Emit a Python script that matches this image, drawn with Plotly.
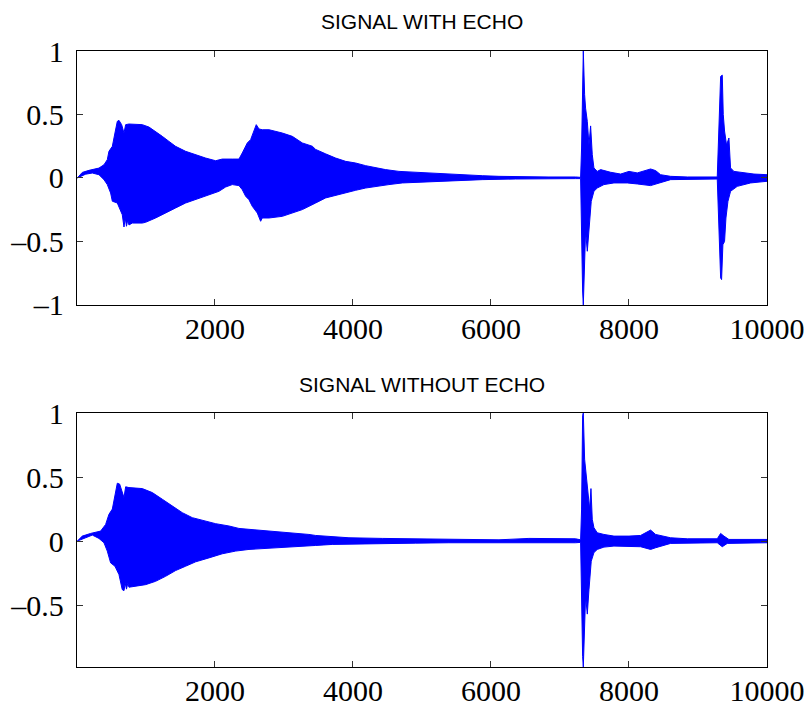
import plotly.graph_objects as go

# envelope of the signal with echo (sample index, amplitude)
echo_up_x = [5, 78, 174, 319, 392, 440, 464, 513, 551, 585, 609, 648, 682, 706, 754, 947, 1044, 1140,
             1237, 1334, 1430, 1575, 1720, 1865, 2010, 2106, 2251, 2348, 2396, 2469, 2517, 2565, 2599,
             2638, 2686, 2783, 2879, 2976, 3121, 3266, 3411, 3459, 3604, 3749, 3894, 4039, 4184, 4328,
             4473, 4667, 4908, 5150, 5391, 5633, 5874, 6116, 6357, 6840, 7226, 7299, 7313, 7328, 7338,
             7357, 7371, 7396, 7420, 7444, 7468, 7492, 7540, 7589, 7637, 7734, 7879, 8000, 8120, 8192,
             8313, 8386, 8458, 8603, 8845, 9279, 9303, 9328, 9352, 9366, 9385, 9414, 9448, 9472, 9521,
             9666, 9811, 10000]
echo_up_y = [0.0, 0.044, 0.060, 0.078, 0.104, 0.144, 0.210, 0.249, 0.354, 0.446, 0.454, 0.420, 0.354,
             0.420, 0.425, 0.420, 0.401, 0.367, 0.328, 0.288, 0.249, 0.210, 0.183, 0.157, 0.136, 0.149,
             0.149, 0.149, 0.197, 0.276, 0.302, 0.380, 0.420, 0.386, 0.380, 0.380, 0.367, 0.354, 0.328,
             0.276, 0.250, 0.225, 0.190, 0.157, 0.131, 0.118, 0.097, 0.079, 0.066, 0.052, 0.045, 0.034,
             0.029, 0.024, 0.018, 0.013, 0.010, 0.008, 0.008, 0.005, 0.236, 0.970, 1.0, 0.656, 0.550,
             0.446, 0.260, 0.410, 0.184, 0.079, 0.052, 0.066, 0.058, 0.045, 0.031, 0.052, 0.040, 0.052,
             0.071, 0.058, 0.026, 0.013, 0.008, 0.008, 0.394, 0.800, 0.810, 0.500, 0.370, 0.260, 0.315,
             0.079, 0.052, 0.040, 0.031, 0.026]
echo_lo_x = [5, 126, 223, 319, 392, 440, 488, 513, 585, 657, 682, 700, 718, 737, 754, 802, 947, 995,
             1140, 1285, 1430, 1575, 1720, 1913, 2058, 2155, 2251, 2348, 2396, 2445, 2493, 2541, 2614,
             2662, 2686, 2783, 2976, 3266, 3459, 3604, 3749, 3894, 4039, 4184, 4328, 4522, 4715, 4908,
             5150, 5391, 5633, 5874, 6357, 6840, 7226, 7299, 7313, 7328, 7338, 7352, 7371, 7396, 7420,
             7453, 7492, 7540, 7637, 7782, 7975, 8120, 8313, 8386, 8603, 9279, 9303, 9328, 9342, 9361,
             9385, 9405, 9434, 9472, 9569, 9762, 10000]
echo_lo_y = [0.0, 0.030, 0.039, 0.026, -0.013, -0.052, -0.118, -0.183, -0.197, -0.289, -0.386, -0.315,
             -0.380, -0.330, -0.370, -0.355, -0.355, -0.349, -0.315, -0.276, -0.236, -0.197, -0.171,
             -0.131, -0.105, -0.071, -0.052, -0.060, -0.092, -0.144, -0.171, -0.223, -0.276, -0.341,
             -0.315, -0.315, -0.302, -0.249, -0.197, -0.157, -0.139, -0.118, -0.097, -0.079, -0.066,
             -0.052, -0.039, -0.034, -0.026, -0.021, -0.018, -0.013, -0.008, -0.005, -0.005, -0.005,
             -0.420, -0.890, -1.0, -0.890, -0.420, -0.577, -0.394, -0.184, -0.105, -0.079, -0.052,
             -0.039, -0.039, -0.047, -0.060, -0.052, -0.013, -0.008, -0.420, -0.787, -0.800, -0.525,
             -0.500, -0.315, -0.184, -0.105, -0.066, -0.039, -0.026]

# envelope of the signal without echo
clean_up_x = [5, 78, 199, 343, 416, 464, 513, 551, 585, 619, 657, 682, 706, 754, 947, 1092, 1237, 1382,
              1527, 1672, 1817, 2010, 2203, 2348, 2493, 2686, 2879, 3121, 3362, 3459, 3700, 3942, 4425,
              4908, 5391, 5633, 6116, 6550, 6840, 7226, 7299, 7313, 7328, 7338, 7357, 7376, 7396, 7430,
              7449, 7468, 7492, 7540, 7637, 7782, 8000, 8168, 8313, 8386, 8603, 8845, 9279, 9328, 9376,
              9448, 10000]
clean_up_y = [0.0, 0.039, 0.060, 0.078, 0.130, 0.209, 0.250, 0.353, 0.452, 0.445, 0.379, 0.340, 0.424,
              0.418, 0.410, 0.379, 0.327, 0.275, 0.222, 0.183, 0.162, 0.136, 0.118, 0.099, 0.092, 0.084,
              0.071, 0.060, 0.052, 0.044, 0.034, 0.026, 0.021, 0.018, 0.016, 0.013, 0.010, 0.021, 0.021,
              0.018, 0.010, 0.250, 0.980, 1.0, 0.640, 0.540, 0.430, 0.250, 0.410, 0.170, 0.105, 0.065,
              0.052, 0.039, 0.039, 0.044, 0.086, 0.052, 0.026, 0.018, 0.018, 0.060, 0.039, 0.013, 0.013]
clean_lo_x = [5, 126, 223, 319, 392, 440, 488, 551, 609, 657, 682, 700, 718, 737, 754, 802, 995, 1140,
              1285, 1430, 1575, 1720, 1913, 2106, 2300, 2493, 2686, 2879, 3121, 3362, 3459, 3700, 3942,
              4425, 4908, 5391, 5874, 6357, 6840, 7226, 7299, 7313, 7328, 7338, 7352, 7371, 7396, 7420,
              7453, 7492, 7540, 7637, 7782, 7975, 8168, 8313, 8386, 8603, 9279, 9352, 9424, 10000]
clean_lo_y = [0.0, 0.026, 0.047, 0.021, -0.013, -0.078, -0.170, -0.196, -0.261, -0.379, -0.387, -0.330,
              -0.375, -0.330, -0.360, -0.360, -0.340, -0.314, -0.275, -0.230, -0.196, -0.162, -0.131,
              -0.099, -0.078, -0.065, -0.058, -0.052, -0.047, -0.037, -0.034, -0.026, -0.021, -0.018,
              -0.016, -0.013, -0.010, -0.008, -0.013, -0.013, -0.010, -0.420, -0.900, -0.983, -0.900,
              -0.430, -0.570, -0.380, -0.157, -0.090, -0.065, -0.047, -0.039, -0.039, -0.044, -0.065,
              -0.052, -0.018, -0.013, -0.044, -0.018, -0.013]

x_ticks = [2000, 4000, 6000, 8000, 10000]
y_ticks_top = [-1, -0.5, 0, 0.5, 1]
y_ticks_bot = [-0.5, 0, 0.5, 1]
titles = ["SIGNAL WITH ECHO", "SIGNAL WITHOUT ECHO"]


def label(v):
    s = f"{v:g}"
    return s.replace("-", "\u2013")


def band(up_x, up_y, lo_x, lo_y, xa, ya):
    return go.Scatter(x=up_x + lo_x[::-1], y=up_y + lo_y[::-1], xaxis=xa, yaxis=ya,
                      mode="lines", fill="toself", fillcolor="#0000ff",
                      line=dict(color="#0000ff", width=1), hoverinfo="skip")


fig = go.Figure()
fig.add_trace(band(echo_up_x, echo_up_y, echo_lo_x, echo_lo_y, "x", "y"))
fig.add_trace(band(clean_up_x, clean_up_y, clean_lo_x, clean_lo_y, "x2", "y2"))

tick_font = dict(family="Liberation Serif, Times New Roman, serif", size=30, color="black")
common = dict(ticks="inside", ticklen=6, tickwidth=1, tickcolor="#333", showline=True,
              linecolor="black", linewidth=1.3, mirror="ticks", showgrid=False, zeroline=False,
              tickfont=tick_font, automargin=False)

xax = dict(range=[1, 10000], tickvals=x_ticks, ticktext=[label(v) for v in x_ticks],
           ticklabelstandoff=-3, **common)

fig.update_layout(
    width=811, height=708, showlegend=False,
    margin=dict(l=77, r=44, t=51, b=41),
    paper_bgcolor="white", plot_bgcolor="white",
    xaxis=dict(domain=[0, 1], anchor="y", **xax),
    yaxis=dict(domain=[0.5877, 1], anchor="x", range=[-1, 1], tickvals=y_ticks_top,
               ticktext=[label(v) for v in y_ticks_top], ticklabelstandoff=6, **common),
    xaxis2=dict(domain=[0, 1], anchor="y2", **xax),
    yaxis2=dict(domain=[0, 0.4123], anchor="x2", range=[-0.983, 1], tickvals=y_ticks_bot,
                ticktext=[label(v) for v in y_ticks_bot], ticklabelstandoff=6, **common),
)

title_font = dict(family="Liberation Sans, Arial, sans-serif", size=21, color="black")
for text, ypos in zip(titles, [1.0479, 0.4594]):
    fig.add_annotation(text=text, x=0.5, y=ypos, xref="paper", yref="paper",
                       showarrow=False, xanchor="center", yanchor="middle", font=title_font)

# the page's default body margin would shift the 811x708 figure
fig.write_html("out.html", config={"displayModeBar": False},
               post_script="document.body.style.margin = '0';")
